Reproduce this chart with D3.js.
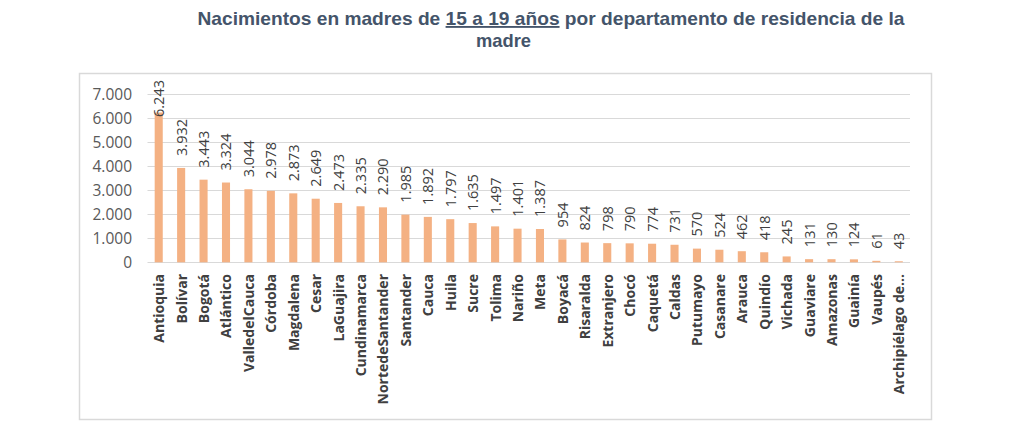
<!DOCTYPE html>
<html><head><meta charset="utf-8">
<script src="https://cdn.jsdelivr.net/npm/d3@7"></script>
<style>body{margin:0;background:#fff}svg{display:block}</style>
</head><body>
<svg id="c" width="1024" height="429"></svg>
<script>
const categories = ["Antioquia","Bolívar","Bogotá","Atlántico","ValledelCauca","Córdoba","Magdalena","Cesar","LaGuajira","Cundinamarca","NortedeSantander","Santander","Cauca","Huila","Sucre","Tolima","Nariño","Meta","Boyacá","Risaralda","Extranjero","Chocó","Caquetá","Caldas","Putumayo","Casanare","Arauca","Quindío","Vichada","Guaviare","Amazonas","Guainía","Vaupés","Archipiélago de..."];
const values = [6243,3932,3443,3324,3044,2978,2873,2649,2473,2335,2290,1985,1892,1797,1635,1497,1401,1387,954,824,798,790,774,731,570,524,462,418,245,131,130,124,61,43];
const yTicks = [0,1000,2000,3000,4000,5000,6000,7000];
const titleLine1 = ["Nacimientos en madres de ", "15 a 19 años", " por departamento de residencia de la"];
const titleLine2 = "madre";

const svg = d3.select("#c");
const fmt = d3.formatLocale({decimal:",", thousands:".", grouping:[3], currency:["",""]}).format(",d");

// frame
svg.append("rect").attr("x",79.5).attr("y",73.5).attr("width",852).attr("height",346)
  .attr("fill","none").attr("stroke","#d9d9d9").attr("stroke-width",1.5);

// title
const t1 = svg.append("text").attr("x",551).attr("y",25).attr("text-anchor","middle")
  .attr("font-family","Liberation Sans, Arial, sans-serif").attr("font-weight","bold")
  .attr("font-size",18.5).attr("fill","#44546a")
  .attr("textLength",707).attr("lengthAdjust","spacingAndGlyphs");
t1.append("tspan").text(titleLine1[0]);
t1.append("tspan").attr("text-decoration","underline").text(titleLine1[1]);
t1.append("tspan").text(titleLine1[2]);
svg.append("text").attr("x",503.5).attr("y",47).attr("text-anchor","middle")
  .attr("font-family","Liberation Sans, Arial, sans-serif").attr("font-weight","bold")
  .attr("font-size",18.5).attr("fill","#44546a").attr("textLength",55).attr("lengthAdjust","spacingAndGlyphs")
  .text(titleLine2);

const x = d3.scaleBand().domain(categories).range([147.5,910]).paddingInner(0.64).paddingOuter(0.32);
const y = d3.scaleLinear().domain([0,7000]).range([262.3,94.3]);

// gridlines
svg.append("g").selectAll("line").data(yTicks).join("line")
  .attr("x1",147.5).attr("x2",910).attr("y1",d=>Math.round(y(d))+0.5).attr("y2",d=>Math.round(y(d))+0.5)
  .attr("stroke","#d9d9d9").attr("stroke-width",1.2);

// y axis labels
const yAxis = d3.axisLeft(y).tickValues(yTicks).tickFormat(fmt).tickSize(0).tickPadding(0);
const ga = svg.append("g").attr("transform","translate(132,0)").call(yAxis);
ga.select(".domain").remove();
ga.selectAll("text").attr("font-family","Open Sans, sans-serif").attr("font-size",15.5).attr("fill","#595959");

// bars
svg.append("g").selectAll("rect").data(values).join("rect")
  .attr("x",(d,i)=>x(categories[i])).attr("width",x.bandwidth())
  .attr("y",d=>y(d)).attr("height",d=>y(0)-y(d)).attr("fill","#f4b183");

// value labels
const vl = svg.append("g").selectAll("text").data(values).join("text")
  .attr("font-family","Open Sans, sans-serif").attr("font-size",14.5).attr("fill","#404040")
  .attr("dominant-baseline","central")
  .text(d=>fmt(d));
vl.each(function(d,i){
  const len = this.getComputedTextLength();
  let bottom = y(d) - 12;
  if (bottom - len < 80) bottom = 80 + len;
  const cx = x(categories[i]) + x.bandwidth()/2;
  d3.select(this).attr("transform",`translate(${cx},${bottom}) rotate(-90)`);
});

// category labels
svg.append("g").selectAll("text").data(categories).join("text")
  .attr("font-family","Open Sans, sans-serif").attr("font-weight","bold").attr("font-size",14)
  .attr("fill","#404040").attr("text-anchor","end").attr("dominant-baseline","central")
  .attr("transform",d=>`translate(${x(d)+x.bandwidth()/2},274) rotate(-90)`)
  .text(d=>d);
</script>
</body></html>
